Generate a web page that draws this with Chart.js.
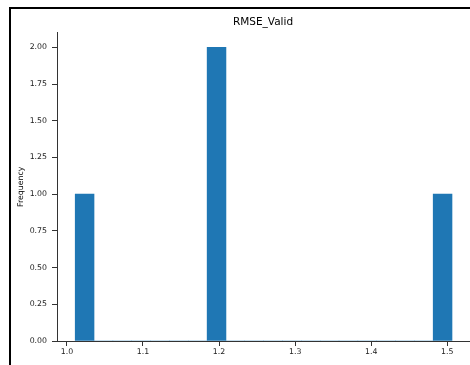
<!DOCTYPE html>
<html>
<head>
<meta charset="utf-8">
<script src="https://cdn.jsdelivr.net/npm/chart.js@4"></script>
<style>
    html, body { margin: 0; padding: 0; background: #fff; overflow: hidden; }
    #wrap { position: relative; width: 470px; height: 365px; }
    #frame {
        position: absolute; left: 9px; top: 7px; width: 600px; height: 600px;
        border-left: 2px solid #000; border-top: 2px solid #000;
    }
    #c { position: absolute; left: 0; top: 0; }
</style>
</head>
<body>
<div id="wrap">
    <div id="frame"></div>
    <canvas id="c" width="470" height="365"></canvas>
</div>
<script>
// --- Histogram data (20 bins) ---
const binCenters = [1.0233, 1.0481, 1.0728, 1.0976, 1.1224, 1.1471, 1.1719, 1.1967, 1.2214, 1.2462,
                    1.2710, 1.2957, 1.3205, 1.3453, 1.3700, 1.3948, 1.4196, 1.4443, 1.4691, 1.4938];
const counts = [1, 0, 0, 0, 0, 0, 0, 2, 0, 0, 0, 0, 0, 0, 0, 0, 0, 0, 0, 1];
const xTicks = [1.0, 1.1, 1.2, 1.3, 1.4, 1.5];
const yTicks = [0, 0.25, 0.5, 0.75, 1.0, 1.25, 1.5, 1.75, 2.0];

const FONT = "'DejaVu Sans', sans-serif";
const tickFont = { family: FONT, size: 7.8 };

const ctx = document.getElementById('c').getContext('2d');
new Chart(ctx, {
    type: 'bar',
    data: {
        datasets: [{
            label: 'RMSE_Valid',
            data: binCenters.map((c, i) => ({ x: c, y: counts[i] })),
            backgroundColor: '#1f77b4',
            borderWidth: 0,
            barPercentage: 1,
            categoryPercentage: 1
        }]
    },
    options: {
        responsive: false,
        animation: false,
        layout: { padding: { left: 0, right: 1, top: 0, bottom: 0 } },
        plugins: {
            legend: { display: false },
            tooltip: { enabled: false },
            title: {
                display: true,
                text: 'RMSE_Valid',
                fullSize: false,
                color: '#000',
                font: { family: FONT, size: 10.5, weight: 'normal' },
                padding: { top: 16, bottom: 4 }
            }
        },
        scales: {
            x: {
                type: 'linear',
                offset: false,
                min: 0.987,
                max: 1.5285,
                afterFit: s => { s.height = 24; },
                afterBuildTicks: s => { s.ticks = xTicks.map(v => ({ value: v })); },
                grid: { offset: false, drawOnChartArea: false, drawTicks: true, tickLength: 5, color: '#333' },
                border: { display: true, color: '#333', width: 1 },
                ticks: { font: tickFont, color: '#222', padding: 1, maxRotation: 0,
                         callback: v => Number(v).toFixed(1) }
            },
            y: {
                min: 0,
                max: 2.1,
                afterFit: s => { s.width = 57; },
                afterBuildTicks: s => { s.ticks = yTicks.map(v => ({ value: v })); },
                grid: { drawOnChartArea: false, drawTicks: true, tickLength: 5, color: '#333' },
                border: { display: true, color: '#333', width: 1 },
                ticks: { font: tickFont, color: '#222', padding: 5,
                         callback: v => Number(v).toFixed(2) },
                title: {
                    display: true,
                    text: 'Frequency',
                    color: '#000',
                    font: { family: FONT, size: 7.8 },
                    padding: { top: 16, bottom: 0 }
                }
            }
        }
    }
});
</script>
</body>
</html>
